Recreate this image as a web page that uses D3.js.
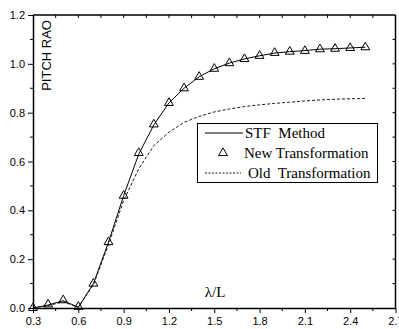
<!DOCTYPE html>
<html>
<head>
<meta charset="utf-8">
<script src="https://cdn.jsdelivr.net/npm/d3@7"></script>
<style>
  body { margin: 0; background: #fff; }
  svg { display: block; }
</style>
</head>
<body>
<svg id="chart"></svg>
<script>
let width = 399;
let height = 329;

// wavelength ratio (lambda/L)
let lambdas = [0.3,0.4,0.5,0.6,0.7,0.8,0.9,1.0,1.1,1.2,1.3,1.4,1.5,1.6,1.7,1.8,1.9,2.0,2.1,2.2,2.3,2.4,2.5];
let stfValues = [0,0.012,0.03,0.003,0.1,0.27,0.46,0.63,0.75,0.84,0.9,0.947,0.98,1.003,1.02,1.033,1.044,1.05,1.054,1.06,1.062,1.065,1.068];
let newValues = [0,0.015,0.032,0.005,0.1,0.27,0.46,0.635,0.752,0.84,0.9,0.947,0.98,1.003,1.02,1.033,1.045,1.05,1.053,1.06,1.062,1.065,1.068];
let oldValues = [0,0.01,0.025,0.003,0.095,0.26,0.44,0.57,0.665,0.72,0.76,0.785,0.803,0.815,0.825,0.832,0.838,0.843,0.848,0.852,0.855,0.857,0.858];

let xTicks = [0.3,0.6,0.9,1.2,1.5,1.8,2.1,2.4,2.7];
let yTicks = [0.0,0.2,0.4,0.6,0.8,1.0,1.2];
let legendLabels = ['STF  Method', 'New Transformation', 'Old  Transformation'];

let svg = d3.select('#chart')
    .attr('width', width)
    .attr('height', height);

let x = d3.scaleLinear().domain([0.3, 2.7]).range([33, 395.5]);
let y = d3.scaleLinear().domain([0, 1.2]).range([308, 15]);

let tickFont = "'Liberation Sans Narrow','Arial Narrow','Liberation Sans',sans-serif";
let serif = "'Liberation Serif','Times New Roman',serif";

// minor ticks
let xMinor = d3.range(0.45, 2.7, 0.3);
let yMinor = d3.range(0.1, 1.2, 0.2);

// bottom axis
let bottom = svg.append('g').attr('transform', `translate(0,${y(0)})`);
bottom.call(d3.axisBottom(x).tickValues(xTicks).tickFormat(d3.format('.1f')).tickSize(5).tickSizeOuter(0));
bottom.selectAll('.minor').data(xMinor).enter().append('line')
    .attr('x1', d => x(d)).attr('x2', d => x(d)).attr('y1', 0).attr('y2', 3)
    .attr('stroke', '#000');

// left axis
let left = svg.append('g').attr('transform', `translate(${x(0.3)},0)`);
left.call(d3.axisLeft(y).tickValues(yTicks).tickFormat(d3.format('.1f')).tickSize(5).tickSizeOuter(0));
left.selectAll('.minor').data(yMinor).enter().append('line')
    .attr('x1', 0).attr('x2', -3).attr('y1', d => y(d)).attr('y2', d => y(d))
    .attr('stroke', '#000');

[bottom, left].forEach(a => {
    a.select('.domain').attr('stroke-width', 1.5);
    a.selectAll('.tick line').attr('stroke-width', 1);
    a.selectAll('.tick text').attr('font-family', tickFont).attr('font-size', 11).attr('fill', '#000');
});
bottom.selectAll('.tick text').attr('dy', '0.9em').attr('y', 7);
left.selectAll('.tick text').attr('x', -8);

// top and right frame with inward ticks
svg.append('line').attr('x1', x(0.3)).attr('x2', x(2.7)).attr('y1', y(1.2)).attr('y2', y(1.2))
    .attr('stroke', '#000').attr('stroke-width', 1.5);
svg.append('line').attr('x1', x(2.7)).attr('x2', x(2.7)).attr('y1', y(1.2)).attr('y2', y(0))
    .attr('stroke', '#000').attr('stroke-width', 1.5);
svg.selectAll('.topTick').data(d3.range(0.45, 2.7, 0.15)).enter().append('line')
    .attr('x1', d => x(d)).attr('x2', d => x(d)).attr('y1', y(1.2)).attr('y2', y(1.2) + 3)
    .attr('stroke', '#000');
svg.selectAll('.rightTick').data(d3.range(0.1, 1.2, 0.1)).enter().append('line')
    .attr('x1', x(2.7)).attr('x2', x(2.7) - 3).attr('y1', d => y(d)).attr('y2', d => y(d))
    .attr('stroke', '#000');

// curves
let line = vals => d3.line().x((d, i) => x(lambdas[i])).y(d => y(d))(vals);

svg.append('path').attr('d', line(oldValues))
    .attr('fill', 'none').attr('stroke', '#000').attr('stroke-width', 0.9)
    .attr('stroke-dasharray', '3,2');

svg.append('path').attr('d', line(stfValues))
    .attr('fill', 'none').attr('stroke', '#000').attr('stroke-width', 1);

let tri = d3.symbol().type(d3.symbolTriangle).size(34);
svg.selectAll('.tri').data(newValues).enter().append('path')
    .attr('d', tri)
    .attr('transform', (d, i) => `translate(${x(lambdas[i])},${y(d)})`)
    .attr('fill', 'none').attr('stroke', '#000').attr('stroke-width', 1);

// axis titles
svg.append('text')
    .attr('transform', 'translate(51,20) rotate(-90)')
    .attr('text-anchor', 'end')
    .attr('font-family', "'Liberation Sans',Arial,sans-serif")
    .attr('font-size', 13)
    .text('PITCH RAO');

svg.append('text')
    .attr('x', 215).attr('y', 297)
    .attr('text-anchor', 'middle')
    .attr('font-family', serif)
    .attr('font-size', 15)
    .text('λ/L');

// legend
let legend = svg.append('g');
legend.append('rect')
    .attr('x', 197.5).attr('y', 123.5).attr('width', 180).attr('height', 59)
    .attr('fill', '#fff').attr('stroke', '#000').attr('stroke-width', 1);

let rowY = [133, 153, 173];
legend.append('line').attr('x1', 205).attr('x2', 243).attr('y1', rowY[0]).attr('y2', rowY[0])
    .attr('stroke', '#000').attr('stroke-width', 1);
legend.append('path').attr('d', tri).attr('transform', `translate(223,${rowY[1]})`)
    .attr('fill', 'none').attr('stroke', '#000');
legend.append('line').attr('x1', 205).attr('x2', 241).attr('y1', rowY[2]).attr('y2', rowY[2])
    .attr('stroke', '#000').attr('stroke-width', 0.9).attr('stroke-dasharray', '2,1.5');

let textX = [245, 244, 248];
legend.selectAll('.lt').data(legendLabels).enter().append('text')
    .attr('x', (d, i) => textX[i])
    .attr('y', (d, i) => rowY[i] + 5)
    .attr('font-family', serif)
    .attr('font-size', 15)
    .attr('xml:space', 'preserve')
    .style('white-space', 'pre')
    .text(d => d);
</script>
</body>
</html>
